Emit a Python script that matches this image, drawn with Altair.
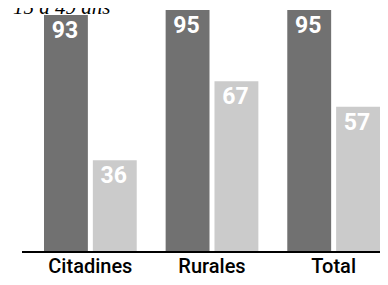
import altair as alt
import pandas as pd

categories = ["Citadines", "Rurales", "Total"]
series = ["Série 1", "Série 2"]
dark_values = [93, 95, 95]
light_values = [36, 67, 57]
colors = ["#717171", "#cbcbcb"]
subtitle = "15 à 49 ans"

rows = []
for c, d, l in zip(categories, dark_values, light_values):
    rows.append({"cat": c, "serie": series[0], "v": d})
    rows.append({"cat": c, "serie": series[1], "v": l})
df = pd.DataFrame(rows)

W, H = 336, 242
LEFT, TOP, BOTTOM = 36, 2, 25

x = alt.X("cat:N", sort=categories,
          scale=alt.Scale(paddingInner=0.2377, paddingOuter=0, round=False),
          axis=alt.Axis(title=None, labelAngle=0, ticks=False, tickSize=0, domain=False,
                        labelFont="Roboto", labelFontWeight=500,
                        labelFontSize=20, labelColor="black", labelPadding=20,
                        labelBaseline="alphabetic"))
xo = alt.XOffset("serie:N", sort=series,
                 scale=alt.Scale(paddingInner=0.102, paddingOuter=0, round=False))
y = alt.Y("v:Q", scale=alt.Scale(domain=[0, 95], nice=False), axis=None)

base = alt.Chart(df)
bars = base.mark_bar().encode(
    x=x, xOffset=xo, y=y,
    color=alt.Color("serie:N", sort=series,
                    scale=alt.Scale(domain=series, range=colors), legend=None),
)
labels = base.mark_text(color="white", font="Roboto", fontWeight="bold",
                        fontSize=23, baseline="alphabetic", dy=23, dx=-1).encode(
    x=x, xOffset=xo, y=y, text="v:Q")

axis_line = alt.Chart(pd.DataFrame({"a": [0]})).mark_rule(color="black", strokeWidth=2).encode(
    x=alt.value(-22), x2=alt.value(W), y=alt.value(H))

title = alt.Chart(pd.DataFrame({"t": [subtitle]})).mark_text(
    font="Liberation Serif", fontStyle="italic", fontSize=21, align="left",
    baseline="alphabetic", color="black").encode(
    x=alt.value(13 - 8 - LEFT), y=alt.value(4), text="t:N")

chart = alt.layer(bars, labels, axis_line, title).properties(
    width=W, height=H,
    padding={"left": LEFT, "top": TOP, "right": 0, "bottom": BOTTOM},
    autosize="none",
).configure_view(stroke=None)

chart.save("out.html", embed_options={"renderer": "svg", "actions": False})
